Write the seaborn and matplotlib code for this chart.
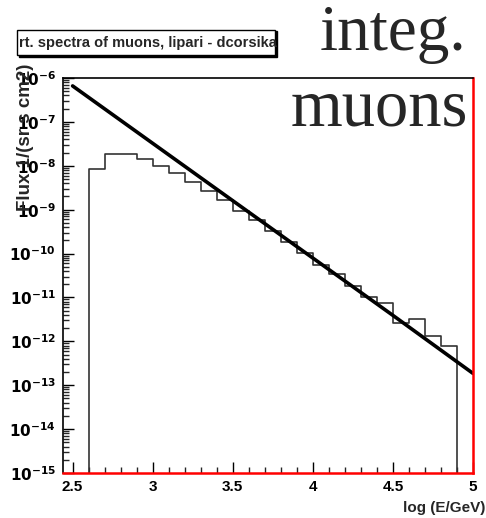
"""
积分谱：μ子通量 (lipari vs dcorsika)
"""
import numpy as np
import matplotlib
matplotlib.use('Agg')
import matplotlib.pyplot as plt
import seaborn as sns
from matplotlib.ticker import FixedLocator, MultipleLocator, LogLocator, FuncFormatter
from matplotlib.patches import Rectangle

sns.set_style('ticks')
plt.rcParams['font.family'] = ['Liberation Sans', 'DejaVu Sans']
plt.rcParams['mathtext.default'] = 'bf'

# ---- 数据 ----
# 直方图 bin 边界 log(E/GeV)
bin_edges = [2.6, 2.7, 2.8, 2.9, 3.0, 3.1, 3.2, 3.3, 3.4, 3.5, 3.6, 3.7,
             3.8, 3.9, 4.0, 4.1, 4.2, 4.3, 4.4, 4.5, 4.6, 4.7, 4.8, 4.9]
# dcorsika 积分通量 1/(sr s cm2)
hist_flux = [8.3e-9, 1.82e-8, 1.82e-8, 1.41e-8, 1.0e-8, 6.8e-9, 4.2e-9, 2.7e-9,
             1.66e-9, 9.5e-10, 5.9e-10, 3.2e-10, 1.82e-10, 1.05e-10, 5.5e-11,
             3.5e-11, 1.78e-11, 1.05e-11, 7.6e-12, 2.6e-12, 3.2e-12, 1.29e-12, 7.9e-13]
# lipari 参数化 (直线)
line_logE = [2.5, 3.5, 4.5, 5.0]
line_flux = [6.6e-7, 1.6e-9, 3.9e-12, 1.86e-13]

x_ticks = [2.5, 3.0, 3.5, 4.0, 4.5, 5.0]
y_range = (1e-15, 1e-6)

# ---- 绘图 ----
fig = plt.figure(figsize=(4.86, 5.18), dpi=100)
ax = fig.add_axes([63/486, 1 - 473/518, 410/486, 395/518])
ax.set_yscale('log')

# 阶梯直方图，两端落到底
step_x = np.repeat(bin_edges, 2)
step_y = np.concatenate([[y_range[0]], np.repeat(hist_flux, 2), [y_range[0]]])
sns.lineplot(x=step_x, y=step_y, sort=False, estimator=None,
             color='#333333', linewidth=1.2, ax=ax)
sns.lineplot(x=line_logE, y=line_flux, color='black', linewidth=2.6, ax=ax)

ax.set_xlim(2.44, 5.0)
ax.set_ylim(*y_range)

ax.xaxis.set_major_locator(FixedLocator(x_ticks))
ax.xaxis.set_minor_locator(MultipleLocator(0.1))
ax.xaxis.set_major_formatter(FuncFormatter(lambda v, p: f'{v:g}'))
ax.yaxis.set_major_locator(LogLocator(base=10, numticks=20))
ax.yaxis.set_minor_locator(LogLocator(base=10, subs=np.arange(2, 10), numticks=20))
ax.yaxis.set_major_formatter(FuncFormatter(lambda v, p: r'$10^{%d}$' % round(np.log10(v))))

ax.tick_params(axis='both', which='major', direction='in', length=8, width=1,
               labelsize=11, colors='black')
ax.tick_params(axis='both', which='minor', direction='in', length=4, width=1)
ax.tick_params(axis='y', labelsize=11, pad=5)
ax.tick_params(axis='x', pad=5)
for lab in ax.get_xticklabels() + ax.get_yticklabels():
    lab.set_fontweight('bold')

for side in ['left', 'top']:
    ax.spines[side].set_color('black')
    ax.spines[side].set_linewidth(1.2)
for side in ['right', 'bottom']:
    ax.spines[side].set_color('red')
    ax.spines[side].set_linewidth(1.8)

ax.set_xlabel('')
ax.set_ylabel('')
fig.text(0.998, 0.006, 'log (E/GeV)', ha='right', va='bottom',
         fontsize=11, fontweight='bold')
fig.text(0.053, 0.734, 'Flux 1/(sr s cm2)', rotation=90, ha='center', va='center',
         fontsize=13.5, fontweight='bold')

# 标题框 (带阴影)
fig.patches.append(Rectangle((19/486, 1 - 57/518), 258/486, 26/518,
                             transform=fig.transFigure, color='black', zorder=5))
fig.patches.append(Rectangle((17/486, 1 - 55/518), 258/486, 25/518,
                             transform=fig.transFigure, facecolor='white',
                             edgecolor='black', linewidth=1, zorder=6))
fig.text(19/486, 1 - 43/518, 'rt. spectra of muons, lipari - dcorsika',
         ha='left', va='center', fontsize=10.5, fontweight='bold', zorder=7)

fig.text(466/486, 1 - 50/518, 'integ.', ha='right', va='baseline',
         family='Liberation Serif', fontsize=47)
fig.text(468/486, 1 - 126/518, 'muons', ha='right', va='baseline',
         family='Liberation Serif', fontsize=48)

plt.savefig('out.png', dpi=100)
plt.close()
